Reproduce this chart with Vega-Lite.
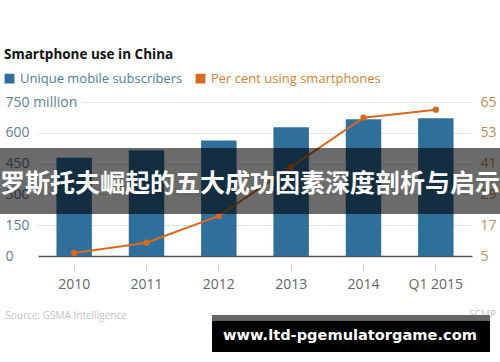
{
  "$schema": "https://vega.github.io/schema/vega-lite/v6.json",
  "width": 434,
  "height": 154,
  "autosize": {"type": "none"},
  "padding": {"left": 38, "top": 102, "right": 28, "bottom": 106},
  "background": "white",
  "config": {"view": {"stroke": null}, "font": "Open Sans"},
  "title": {"text": "Smartphone use in China", "anchor": "start", "frame": "group", "dx": -34, "dy": -11, "offset": 0, "fontSize": 13.5, "fontWeight": "bold", "color": "#111111", "font": "Open Sans"},
  "data": {"values": [
    {"year": "2010", "subs": 479, "pct": 6.2},
    {"year": "2011", "subs": 515, "pct": 10.2},
    {"year": "2012", "subs": 563, "pct": 20.6},
    {"year": "2013", "subs": 627, "pct": 39.7},
    {"year": "2014", "subs": 666, "pct": 58.9},
    {"year": "Q1 2015", "subs": 671, "pct": 62.0}
  ]},
  "encoding": {
    "x": {
      "field": "year", "type": "ordinal", "sort": null,
      "scale": {"paddingInner": 0.51, "paddingOuter": 0.255},
      "axis": {
        "labelAngle": 0, "labelFontSize": 14, "labelColor": "#666666", "domain": false,
        "ticks": true, "tickColor": "#cccccc", "tickSize": 6, "offset": 8, "labelPadding": 7,
        "title": "Source: GSMA Intelligence", "titleFontSize": 10, "titleColor": "#c4c4c4",
        "titleFontWeight": "normal", "titleAnchor": "start", "titleAlign": "left",
        "titleX": -33, "titleY": 51, "titleBaseline": "middle"
      }
    }
  },
  "layer": [
    {
      "mark": {"type": "bar"},
      "encoding": {
        "y": {
          "field": "subs", "type": "quantitative", "scale": {"domain": [0, 750]},
          "axis": {
            "orient": "left", "values": [0, 150, 300, 450, 600, 750],
            "labelExpr": "datum.value == 750 ? '750 million' : datum.label",
            "labelAlign": "left", "labelPadding": 33, "ticks": false, "domain": false,
            "grid": true,
            "gridColor": {"condition": {"test": "datum.value == 0", "value": "#555555"}, "value": "#e3e3e3"},
            "gridWidth": {"condition": {"test": "datum.value == 0", "value": 1.5}, "value": 1},
            "gridDash": {"condition": {"test": "datum.value == 750", "value": [0, 44, 400]}, "value": []},
            "labelColor": "#5b8197", "labelFontSize": 14, "labelBaseline": "middle", "title": null
          }
        },
        "color": {
          "datum": "Unique mobile subscribers",
          "scale": {"domain": ["Unique mobile subscribers", "Per cent using smartphones"], "range": ["#2f6f9c", "#d9691e"]},
          "legend": {
            "orient": "none", "legendX": -35, "legendY": -30, "direction": "horizontal", "title": null,
            "symbolType": "square", "symbolSize": 70, "labelFontSize": 13, "columnPadding": 10,
            "labelOffset": 4, "labelLimit": 400,
            "encode": {
              "symbols": {"update": {
                "fill": {"signal": "datum.value == 'Unique mobile subscribers' ? '#2f6f9c' : '#d9691e'"},
                "stroke": {"value": "transparent"}, "opacity": {"value": 1}
              }},
              "labels": {"update": {
                "fill": {"signal": "datum.value == 'Unique mobile subscribers' ? '#4a7fa0' : '#e07f2a'"}
              }}
            }
          }
        }
      }
    },
    {
      "mark": {"type": "line", "strokeWidth": 2, "point": {"filled": true, "size": 40}},
      "encoding": {
        "y": {
          "field": "pct", "type": "quantitative", "scale": {"domain": [5, 65]},
          "axis": {
            "orient": "right", "values": [5, 17, 29, 41, 53, 65], "domain": false, "ticks": false,
            "grid": false, "labelColor": "#c98a4f", "labelFontSize": 14, "labelPadding": 8, "title": null
          }
        },
        "color": {"datum": "Per cent using smartphones"}
      }
    },
    {
      "data": {"values": [{"t": "SCMP"}]},
      "mark": {"type": "text", "align": "right", "baseline": "middle", "fontSize": 10, "color": "#c4c4c4"},
      "encoding": {"text": {"field": "t"}, "x": {"value": 458}, "y": {"value": 213}}
    },
    {
      "data": {"values": [{"t": "罗斯托夫崛起的五大成功因素深度剖析与启示"}]},
      "layer": [
        {
          "mark": {"type": "rect", "color": "black", "opacity": 0.58},
          "encoding": {"x": {"value": -38}, "x2": {"value": 462}, "y": {"value": 46}, "y2": {"value": 112}}
        },
        {
          "mark": {"type": "text", "align": "center", "baseline": "middle", "fontSize": 25, "font": "Noto Sans CJK SC", "fontWeight": "bold", "color": "white"},
          "encoding": {"text": {"field": "t"}, "x": {"value": 212}, "y": {"value": 82}}
        }
      ]
    },
    {
      "data": {"values": [{"t": "www.ltd-pgemulatorgame.com"}]},
      "layer": [
        {
          "mark": {"type": "rect", "color": "black"},
          "encoding": {"x": {"value": 174}, "x2": {"value": 452}, "y": {"value": 213}, "y2": {"value": 250}}
        },
        {
          "mark": {"type": "rect", "color": "#666666"},
          "encoding": {"x": {"value": 174}, "x2": {"value": 452}, "y": {"value": 213}, "y2": {"value": 219}}
        },
        {
          "mark": {"type": "text", "align": "center", "baseline": "middle", "fontSize": 14.6, "font": "DejaVu Sans", "fontWeight": "bold", "color": "white"},
          "encoding": {"text": {"field": "t"}, "x": {"value": 312}, "y": {"value": 234}}
        }
      ]
    }
  ],
  "resolve": {"scale": {"y": "independent"}}
}
